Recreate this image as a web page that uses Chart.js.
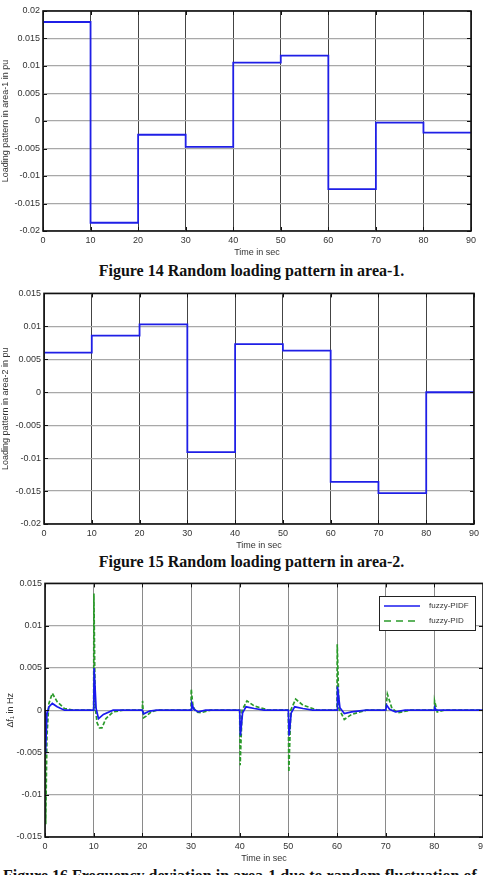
<!DOCTYPE html>
<html>
<head>
<meta charset="utf-8">
<script src="https://cdn.jsdelivr.net/npm/chart.js@4.4.1/dist/chart.umd.min.js"></script>
<style>
  html, body { margin: 0; padding: 0; background: #fff; overflow: hidden; }
  body { width: 483px; height: 875px; position: relative; }
  .box { position: absolute; left: 0; }
  .cap { position: absolute; font-family: "Liberation Serif", "Times New Roman", serif; font-weight: bold; font-size: 16px; white-space: nowrap; color: #111; }
</style>
</head>
<body>
<div class="box" style="top:0;width:483px;height:258px"><canvas id="area1Chart"></canvas></div>
<div class="cap" style="top:262px;left:0;width:503px;text-align:center">Figure 14 Random loading pattern in area-1.</div>
<div class="box" style="top:285px;width:483px;height:266px"><canvas id="area2Chart"></canvas></div>
<div class="cap" style="top:553px;left:0;width:503px;text-align:center">Figure 15 Random loading pattern in area-2.</div>
<div class="box" style="top:575px;width:500px;height:289px"><canvas id="freqChart"></canvas></div>
<div class="cap" style="top:867px;left:3px">Figure 16 Frequency deviation in area-1 due to random fluctuation of</div>

<script>
// step start times (sec) and load levels (pu)
const stepTimes = [0, 10, 20, 30, 40, 50, 60, 70, 80];
const endTime = 90;
const area1Load = [0.018, -0.0185, -0.0025, -0.0047, 0.0106, 0.0119, -0.0124, -0.0003, -0.0021];
const area2Load = [0.006, 0.0086, 0.0103, -0.0091, 0.0073, 0.0063, -0.0136, -0.0153, 0];

// frequency deviation in area-1 (Hz)
const pidfTime = [0, 0.1, 0.4, 0.8, 1.5, 2.5, 4, 10, 10.1, 10.5, 11, 12, 14, 20, 20.2, 20.4, 21.5, 23, 30, 30.15, 30.6, 31.5, 33, 40, 40.15, 40.6, 41.3, 43, 45, 50, 50.15, 50.6, 51.3, 53, 55, 60, 60.1, 60.6, 61.5, 63, 66, 70, 70.2, 70.8, 72, 74, 80, 80.1, 80.4, 90];
const pidfDev  = [0, -0.0052, -0.0005, 0.0004, 0.0008, 0.0004, 0, 0, 0.005, 0.0002, -0.001, -0.0005, 0, 0, -0.0004, -0.0004, -0.0001, 0, 0, 0.0008, 0.0001, -0.0002, 0, 0, -0.003, -0.0003, 0.0004, 0.0002, 0, 0, -0.003, -0.0003, 0.0004, 0.0002, 0, 0, 0.0028, 0.0003, -0.0004, -0.0002, 0, 0, 0.0006, 0.0001, -0.0002, 0, 0, 0.0003, 0, 0];
const pidTime = [0, 0.15, 0.4, 0.8, 1.5, 2.5, 4, 6, 10, 10.05, 10.3, 10.7, 11.2, 11.7, 12.5, 14, 16, 20, 20.05, 20.25, 20.8, 21.8, 23, 30, 30.05, 30.4, 31, 32, 34, 40, 40.1, 40.5, 41.5, 43, 46, 50, 50.1, 50.5, 51.5, 53, 56, 60, 60.05, 60.4, 61.5, 63, 66, 70, 70.35, 71.3, 72.5, 75, 80, 80.05, 80.6, 82, 90];
const pidDev  = [0, -0.0135, -0.003, 0.0008, 0.002, 0.001, 0.0002, 0, 0, 0.0138, 0.0005, -0.0015, -0.0021, -0.0021, -0.001, -0.0002, 0, 0, 0.0011, -0.0009, -0.0007, -0.0002, 0, 0, 0.0025, 0.0005, -0.0002, -0.0003, 0, 0, -0.0065, 0, 0.0011, 0.0005, 0, 0, -0.0073, 0, 0.0013, 0.0006, 0, 0, 0.0078, 0.0002, -0.0011, -0.0005, 0, 0, 0.0019, 0.0002, -0.0003, 0, 0, 0.0011, -0.0002, 0, 0];

const font = 'Liberation Sans, Arial, sans-serif';
const fmt = v => String(Number(Number(v).toFixed(4)));

// matlab style frame with inward tick marks
const framePlugin = {
    id: 'frame',
    afterDatasetsDraw(chart) {
        const { ctx, chartArea: a, scales } = chart;
        ctx.save();
        ctx.strokeStyle = '#111';
        ctx.lineWidth = 1;
        scales.x.ticks.forEach(t => {
            const px = Math.round(scales.x.getPixelForValue(t.value)) + 0.5;
            ctx.beginPath();
            ctx.moveTo(px, a.bottom); ctx.lineTo(px, a.bottom - 4);
            ctx.moveTo(px, a.top); ctx.lineTo(px, a.top + 4);
            ctx.stroke();
        });
        scales.y.ticks.forEach(t => {
            const py = Math.round(scales.y.getPixelForValue(t.value)) + 0.5;
            ctx.beginPath();
            ctx.moveTo(a.left, py); ctx.lineTo(a.left + 4, py);
            ctx.moveTo(a.right, py); ctx.lineTo(a.right - 4, py);
            ctx.stroke();
        });
        ctx.lineWidth = 1.6;
        ctx.strokeRect(a.left, a.top, a.right - a.left, a.bottom - a.top);
        ctx.restore();
    }
};

// boxed legend in the upper right of the plot
const boxLegend = {
    id: 'boxLegend',
    afterDraw(chart, args, opts) {
        if (!opts.show) return;
        const { ctx } = chart;
        const x = opts.x, y = opts.y, w = opts.w, h = opts.h;
        ctx.save();
        ctx.fillStyle = '#fff';
        ctx.fillRect(x, y, w, h);
        ctx.strokeStyle = '#222';
        ctx.lineWidth = 1;
        ctx.strokeRect(x + 0.5, y + 0.5, w, h);
        chart.data.datasets.forEach((ds, i) => {
            const ly = y + 10 + i * 15;
            ctx.strokeStyle = ds.borderColor;
            ctx.lineWidth = 1.3;
            ctx.setLineDash(ds.legendDash || []);
            ctx.beginPath();
            ctx.moveTo(x + 5, ly); ctx.lineTo(x + 41, ly);
            ctx.stroke();
            ctx.setLineDash([]);
            ctx.fillStyle = '#333';
            ctx.font = '8px ' + font;
            ctx.textBaseline = 'middle';
            ctx.fillText(ds.label, x + 50, ly);
        });
        ctx.restore();
    }
};

const makeOptions = (cfg) => ({
    responsive: true,
    maintainAspectRatio: false,
    animation: false,
    layout: { padding: cfg.padding },
    plugins: {
        legend: { display: false },
        tooltip: { enabled: false },
        boxLegend: cfg.legend || { show: false }
    },
    scales: {
        x: {
            type: 'linear',
            min: 0, max: 90,
            afterFit: s => { s.height = 27; },
            ticks: { stepSize: 10, padding: 4, color: '#333', font: { family: font, size: 9 }, maxRotation: 0 },
            grid: { color: cfg.vGridColor, borderDash: cfg.vGridDash, drawTicks: false, lineWidth: 1 },
            border: { display: false },
            title: { display: true, text: 'Time in sec', color: '#333', font: { family: font, size: 9 }, padding: { top: 0, bottom: 0 } }
        },
        y: {
            min: cfg.yMin, max: cfg.yMax,
            afterFit: s => { s.width = cfg.yWidth; },
            ticks: { stepSize: 0.005, padding: 3, color: '#333', font: { family: font, size: 9 }, callback: fmt },
            grid: { color: '#a8a8a8', drawTicks: false, lineWidth: 1.2 },
            border: { display: false },
            title: { display: true, text: cfg.yTitle, color: '#333', font: { family: font, size: 9 }, padding: cfg.yTitlePad }
        }
    }
});

const stepPoints = levels => stepTimes.map((t, i) => ({ x: t, y: levels[i] }))
    .concat([{ x: endTime, y: levels[levels.length - 1] }]);

new Chart(document.getElementById('area1Chart'), {
    type: 'line',
    data: {
        datasets: [{
            label: 'area-1 load',
            data: stepPoints(area1Load),
            stepped: true,
            borderColor: '#1f1fe6',
            borderWidth: 1.8,
            pointRadius: 0,
            fill: false
        }]
    },
    options: makeOptions({
        padding: { top: 11, right: 12, left: 0, bottom: 0 },
        yMin: -0.02, yMax: 0.02, yWidth: 43,
        yTitle: 'Loading pattern in area-1 in pu', yTitlePad: { top: 0, bottom: 0 },
        vGridColor: '#444', vGridDash: [2, 2]
    }),
    plugins: [framePlugin]
});

new Chart(document.getElementById('area2Chart'), {
    type: 'line',
    data: {
        datasets: [{
            label: 'area-2 load',
            data: stepPoints(area2Load),
            stepped: true,
            borderColor: '#1f1fe6',
            borderWidth: 1.8,
            pointRadius: 0,
            fill: false
        }]
    },
    options: makeOptions({
        padding: { top: 5, right: 9, left: 0, bottom: 0 },
        yMin: -0.02, yMax: 0.015, yWidth: 44,
        yTitle: 'Loading pattern in area-2 in pu', yTitlePad: { top: 0, bottom: 0 },
        vGridColor: '#444', vGridDash: [2, 2]
    }),
    plugins: [framePlugin]
});

new Chart(document.getElementById('freqChart'), {
    type: 'line',
    data: {
        datasets: [
            {
                label: 'fuzzy-PIDF',
                data: pidfTime.map((t, i) => ({ x: t, y: pidfDev[i] })),
                borderColor: '#1a1aee',
                borderWidth: 1.7,
                pointRadius: 0,
                tension: 0,
                fill: false
            },
            {
                label: 'fuzzy-PID',
                data: pidTime.map((t, i) => ({ x: t, y: pidDev[i] })),
                borderColor: '#2a9a2a',
                borderDash: [4, 2],
                legendDash: [7, 5],
                borderWidth: 1.7,
                pointRadius: 0,
                tension: 0,
                fill: false
            }
        ]
    },
    options: makeOptions({
        padding: { top: 7, right: 17, left: 0, bottom: 0 },
        yMin: -0.015, yMax: 0.015, yWidth: 45,
        yTitle: 'Δf₁ in Hz', yTitlePad: { top: 5, bottom: 0 },
        vGridColor: '#8a8a8a', vGridDash: [],
        legend: { show: true, x: 379, y: 21, w: 96, h: 34 }
    }),
    plugins: [framePlugin, boxLegend]
});
</script>
</body>
</html>
